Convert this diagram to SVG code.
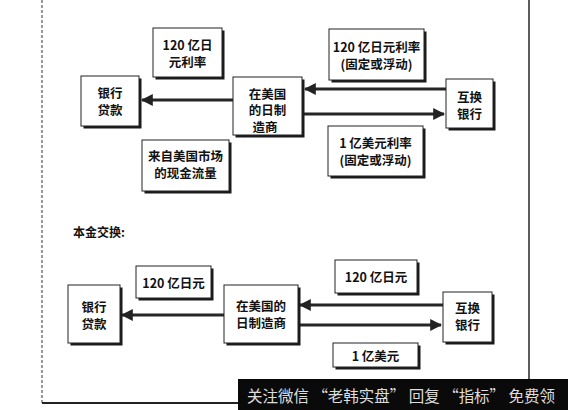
<svg xmlns="http://www.w3.org/2000/svg" width="568" height="410" viewBox="0 0 568 410">
<defs>
<style>
.bx{fill:#fff;stroke:#222;stroke-width:1}
.sh{fill:#1a1a1a}
.t{font-family:"Noto Sans CJK SC","Liberation Serif",serif;font-weight:bold;font-size:12.5px;fill:#111;text-anchor:middle;dominant-baseline:central}
.ln{stroke:#262626;stroke-width:3;fill:none}
</style>
<marker id="ah" viewBox="0 0 10 10" refX="9" refY="5" markerWidth="4" markerHeight="4" orient="auto" markerUnits="strokeWidth">
<path d="M0,0 L10,5 L0,10 z" fill="#222"/>
</marker>
</defs>
<rect width="568" height="410" fill="#fff"/>
<g id="frame">
<line x1="42" y1="0" x2="42" y2="403" stroke="#555" stroke-width="1.2" stroke-dasharray="3,2"/>
<line x1="42" y1="403" x2="300" y2="403" stroke="#222" stroke-width="2"/>
<line x1="529" y1="0" x2="529" y2="380" stroke="#333" stroke-width="1.6"/>
</g>
<g id="connectors">
<line class="ln" x1="233" y1="100" x2="142" y2="100" marker-end="url(#ah)"/>
<line class="ln" x1="446" y1="89" x2="305" y2="89" marker-end="url(#ah)"/>
<line class="ln" x1="302" y1="114" x2="444" y2="114" marker-end="url(#ah)"/>
<line class="ln" x1="224" y1="315" x2="122" y2="315" marker-end="url(#ah)"/>
<line class="ln" x1="443" y1="305" x2="300" y2="305" marker-end="url(#ah)"/>
<line class="ln" x1="298" y1="325" x2="441" y2="325" marker-end="url(#ah)"/>
</g>
<g id="n1"><rect class="sh" x="155.5" y="30.5" width="69" height="49"/><rect class="bx" x="153" y="28" width="69" height="49"/><text class="t" x="187.5" y="44">120 亿日</text><text class="t" x="187.5" y="61">元利率</text></g>
<g id="n2"><rect class="sh" x="83.5" y="78.5" width="58" height="50"/><rect class="bx" x="81" y="76" width="58" height="50"/><text class="t" x="110" y="92.5">银行</text><text class="t" x="110" y="109.5">贷款</text></g>
<g id="n3"><rect class="sh" x="235.5" y="79.5" width="69" height="58"/><rect class="bx" x="233" y="77" width="69" height="58"/><text class="t" x="267.5" y="93">在美国</text><text class="t" x="267.5" y="109.5">的日制</text><text class="t" x="265" y="126">造商</text></g>
<g id="n4"><rect class="sh" x="144.5" y="142.5" width="87" height="51"/><rect class="bx" x="142" y="140" width="87" height="51"/><text class="t" x="185.5" y="155.5">来自美国市场</text><text class="t" x="185.5" y="172.5">的现金流量</text></g>
<g id="n5"><rect class="sh" x="331.5" y="31.5" width="95" height="51"/><rect class="bx" x="329" y="29" width="95" height="51"/><text class="t" x="376.5" y="46">120 亿日元利率</text><text class="t" x="376.5" y="63">(固定或浮动)</text></g>
<g id="n6"><rect class="sh" x="448.5" y="81.5" width="47" height="49"/><rect class="bx" x="446" y="79" width="47" height="49"/><text class="t" x="469.5" y="96">互换</text><text class="t" x="469.5" y="113">银行</text></g>
<g id="n7"><rect class="sh" x="330.5" y="128.5" width="95" height="50"/><rect class="bx" x="328" y="126" width="95" height="50"/><text class="t" x="375.5" y="142.5">1 亿美元利率</text><text class="t" x="375.5" y="159.5">(固定或浮动)</text></g>
<text x="73" y="231" font-family="'Noto Sans CJK SC',sans-serif" font-weight="bold" font-size="12" fill="#111" dominant-baseline="central">本金交换:</text>
<g id="n8"><rect class="sh" x="138.5" y="268.5" width="75" height="32"/><rect class="bx" x="136" y="266" width="75" height="32"/><text class="t" x="173.5" y="282">120 亿日元</text></g>
<g id="n9"><rect class="sh" x="70.5" y="287.5" width="52" height="58"/><rect class="bx" x="68" y="285" width="52" height="58"/><text class="t" x="94" y="306">银行</text><text class="t" x="94" y="323">贷款</text></g>
<g id="n10"><rect class="sh" x="226.5" y="287.5" width="74" height="58"/><rect class="bx" x="224" y="285" width="74" height="58"/><text class="t" x="261" y="305">在美国的</text><text class="t" x="261" y="322">日制造商</text></g>
<g id="n11"><rect class="sh" x="337.5" y="262.5" width="82" height="33"/><rect class="bx" x="335" y="260" width="82" height="33"/><text class="t" x="376" y="276">120 亿日元</text></g>
<g id="n12"><rect class="sh" x="445.5" y="294.5" width="49" height="50"/><rect class="bx" x="443" y="292" width="49" height="50"/><text class="t" x="467.5" y="307">互换</text><text class="t" x="467.5" y="324">银行</text></g>
<g id="n13"><rect class="sh" x="335.5" y="345.5" width="85" height="24"/><rect class="bx" x="333" y="343" width="85" height="24"/><text class="t" x="375.5" y="355">1 亿美元</text></g>
<g id="watermark">
<rect x="238" y="379" width="330" height="31" fill="#0a0a0a"/>
<text x="247" y="395" font-family="'Noto Sans CJK SC',sans-serif" font-size="16" fill="#ddd" dominant-baseline="central" textLength="308" lengthAdjust="spacingAndGlyphs">关注微信 “老韩实盘” 回复 “指标” 免费领</text>
</g>
</svg>
